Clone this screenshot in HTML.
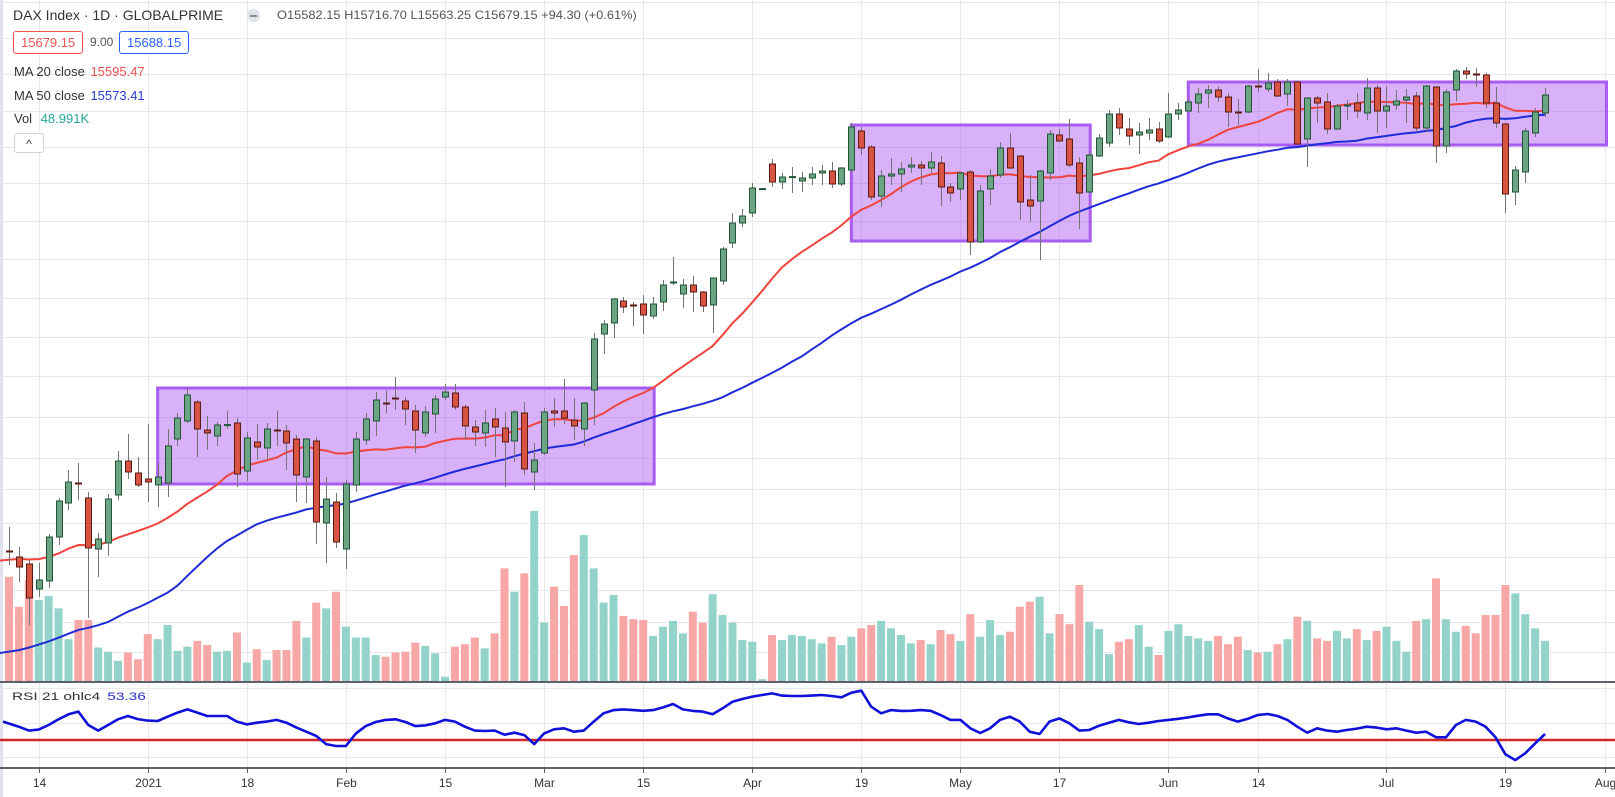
<!DOCTYPE html>
<html><head><meta charset="utf-8"><title>DAX Index 1D</title>
<style>
html,body{margin:0;padding:0;background:#fff;}
body{width:1615px;height:797px;position:relative;overflow:hidden;font-family:"Liberation Sans",sans-serif;color:#131722;}
svg{position:absolute;left:0;top:0;}
.lg{position:absolute;font-size:13px;white-space:nowrap;color:#333;}
.box{position:absolute;border:1px solid;border-radius:3px;font-size:13px;height:21px;line-height:21px;padding:0 7px;background:#fff;}
</style></head>
<body>
<svg id="chart" width="1615" height="797"></svg>

<div class="lg" style="left:13px;top:7px;font-size:14px;color:#333;">DAX Index · 1D · GLOBALPRIME</div>
<div style="position:absolute;left:247px;top:9px;width:13px;height:13px;border-radius:7px;background:#e0e3eb;"><div style="position:absolute;left:3px;top:6px;width:7px;height:2px;background:#888;"></div></div>
<div class="lg" style="left:277px;top:8px;font-size:12px;color:#555;transform:scaleX(1.07);transform-origin:0 0;">O15582.15 H15716.70 L15563.25 C15679.15 +94.30 (+0.61%)</div>
<div class="box" style="left:13px;top:31px;border-color:#ef5350;color:#ef5350;">15679.15</div>
<div class="lg" style="left:90px;top:35px;font-size:12px;color:#555;">9.00</div>
<div class="box" style="left:119px;top:31px;border-color:#2962ff;color:#2962ff;">15688.15</div>
<div class="lg" style="left:14px;top:64px;">MA 20 close <span style="color:#ef5350;margin-left:2px;">15595.47</span></div>
<div class="lg" style="left:14px;top:88px;">MA 50 close <span style="color:#2a3bd6;margin-left:2px;">15573.41</span></div>
<div class="lg" style="left:14px;top:111px;">Vol <span style="color:#26a69a;margin-left:5px;">48.991K</span></div>
<div style="position:absolute;left:14px;top:133px;width:28px;height:18px;border:1px solid #d1d4dc;border-radius:3px;background:#fff;font-size:12px;text-align:center;line-height:20px;color:#333;">^</div>
<div class="lg" style="left:12px;top:691px;font-size:11px;transform:scaleX(1.4);transform-origin:0 0;">RSI 21 ohlc4 <span style="color:#2a2ad0;margin-left:2px;">53.36</span></div>

<script>
const priorCloses=[12610,12540,12520,12680,12730,12750,12790,12900,12840,12850,12570,12540,12700,12610,12490,
12650,12300,11750,11650,11660,
11890,12190,12420,12530,12580,13120,13260,13290,13150,13180,13170,13240,13230,13260,13310,13270,13380,13460,13420,13390,13430,
13460,13420,13400,13380,13370,13440,13420,13400];
const opens=[13410,13380,13345,13220,13260,13480,13650,13750,13675,13420,
13450,13690,13860,13800,13770,13740,13750,13970,14060,14155,
14015,13985,14040,14050,13810,13955,13925,14015,14010,13970,
13780,13960,13550,13655,13420,13740,13965,14060,14150,14175,
14160,14110,14000,14095,14180,14200,14130,14030,14000,14070,
14025,13960,14100,13805,13900,14110,14110,14065,14020,14215,
14495,14550,14660,14640,14645,14585,14655,14750,14695,14740,
14705,14640,14760,14950,15050,15100,15220,15345,15255,15280,
15260,15275,15300,15310,15245,15315,15510,15430,15185,15285,
15295,15330,15340,15325,15350,15230,15220,15305,14955,15220,
15290,15425,15385,15165,15160,15300,15490,15470,15350,15205,
15385,15450,15595,15520,15490,15500,15520,15480,15595,15610,
15650,15700,15715,15680,15605,15605,15735,15720,15755,15695,
15755,15470,15675,15655,15520,15635,15650,15600,15725,15610,
15640,15665,15685,15525,15730,15435,15715,15810,15795,15790,
15650,15545,15205,15305,15500,15600];
const highs=[13530,13430,13365,13350,13495,13675,13815,13850,13705,13500,
13695,13910,13995,13880,14045,13850,14020,14100,14225,14165,
14085,14055,14110,14075,14005,14045,14050,14110,14040,13990,
13975,13980,13780,13700,13765,14005,14100,14205,14215,14280,
14180,14140,14135,14190,14245,14245,14140,14065,14115,14125,
14105,14115,14155,13950,14125,14175,14270,14175,14155,14500,
14565,14675,14680,14655,14690,14680,14765,14880,14770,14785,
14710,14775,14930,15100,15120,15250,15225,15370,15300,15330,
15305,15330,15340,15355,15330,15550,15530,15440,15315,15375,
15355,15380,15360,15405,15385,15250,15305,15315,15240,15320,
15455,15500,15390,15290,15315,15515,15520,15570,15380,15400,
15495,15615,15625,15575,15550,15575,15555,15700,15650,15675,
15725,15740,15735,15700,15670,15740,15820,15800,15770,15770,
15760,15680,15685,15700,15645,15665,15700,15775,15740,15735,
15715,15720,15705,15740,15735,15720,15820,15830,15825,15800,
15730,15550,15335,15525,15625,15725];
const lows=[13340,13255,13040,13180,13225,13440,13615,13665,13075,13280,
13385,13665,13770,13730,13655,13630,13680,13935,14050,13880,
13915,13935,14020,13730,13760,13865,13870,13935,13815,13655,
13650,13445,13350,13425,13320,13705,13940,13985,14100,14115,
14040,13900,13980,14000,14165,14115,13970,13935,13930,13880,
13730,13855,13790,13715,13890,14030,14045,13965,13935,14040,
14395,14475,14600,14535,14495,14570,14610,14740,14625,14605,
14605,14500,14740,14925,15030,15080,15215,15230,15220,15200,
15205,15240,15240,15225,15235,15305,15390,15165,15130,15240,
15205,15300,15240,15300,15135,15155,15165,14890,14950,15140,
15275,15320,15065,15055,14865,15265,15455,15330,15020,15200,
15380,15430,15490,15440,15395,15465,15450,15475,15565,15610,
15600,15625,15655,15530,15540,15600,15705,15705,15680,15635,
15440,15330,15550,15495,15515,15565,15575,15565,15500,15525,
15615,15550,15505,15505,15350,15400,15660,15770,15730,15625,
15525,15100,15140,15250,15480,15580];
const closes=[13405,13330,13175,13265,13480,13660,13755,13745,13425,13470,
13670,13860,13805,13740,13755,13780,13935,14075,14190,14020,
14000,14040,14042,13795,13975,13930,14020,14010,13950,13790,
13970,13555,13670,13455,13745,13970,14070,14165,14148,14170,
14120,14015,14105,14170,14205,14130,14035,14005,14050,14030,
13955,14105,13820,13865,14105,14100,14075,14035,14150,14470,
14545,14670,14630,14635,14590,14645,14740,14755,14740,14705,
14635,14775,14920,15050,15085,15225,15222,15255,15280,15282,
15275,15295,15310,15245,15325,15530,15425,15180,15285,15295,
15320,15340,15325,15355,15230,15200,15300,14955,15210,15285,
15425,15325,15155,15135,15310,15495,15460,15340,15200,15390,
15475,15595,15525,15485,15505,15515,15460,15595,15615,15655,
15695,15715,15680,15605,15600,15735,15730,15750,15685,15755,
15445,15675,15650,15520,15635,15640,15610,15725,15610,15635,
15660,15680,15525,15735,15435,15705,15810,15795,15790,15650,
15550,15195,15315,15510,15605,15690];
const volumesK=[126,90,122,98,103,88,51,74,74,41,36,25,35,27,57,51,68,37,42,49,
44,36,37,59,23,39,26,38,38,73,53,95,88,108,66,53,53,32,30,35,
36,47,43,34,6,42,45,53,40,58,136,108,130,205,71,114,91,152,176,136,
95,104,79,75,74,55,66,73,58,84,71,105,80,71,50,48,3,56,50,56,
55,51,46,54,44,54,64,68,73,64,56,46,50,45,62,57,49,81,54,74,
56,60,90,96,102,58,81,69,116,72,63,33,48,51,68,42,32,61,69,55,
52,49,55,45,54,38,35,36,45,51,78,73,52,49,61,52,63,50,61,66,
49,36,73,75,124,75,60,67,58,80,80,116,106,81,64,49];
const rsiValues=[60.8,57.8,55.5,56.1,58.8,62.2,65.1,66.7,58.8,55.5,
58.8,62.2,64.1,62.3,61.4,61.2,63.7,66.1,68.0,66.1,
64.1,64.1,64.1,60.8,59.2,60.2,60.8,61.8,60.2,57.3,
54.9,52.4,47.6,46.5,46.5,53.9,58.2,60.6,61.8,62.2,
60.6,58.2,58.6,59.8,61.8,60.8,57.8,55.5,55.3,55.5,
53.1,54.3,52.9,47.6,53.9,56.3,56.9,54.9,55.5,60.8,
65.7,67.6,68.0,67.6,67.2,67.6,69.2,71.2,68.0,67.1,
66.7,65.1,68.6,72.5,74.1,75.5,76.5,77.4,76.1,75.9,
75.9,76.1,76.5,75.9,75.1,77.8,79.0,69.6,65.7,67.6,
67.1,67.2,67.6,67.2,64.7,61.8,61.8,56.9,54.1,56.9,
61.8,63.7,60.8,54.9,53.5,60.8,62.7,59.8,55.5,55.9,
58.4,60.2,61.8,60.4,59.4,60.2,61.2,61.8,62.5,63.3,
64.3,65.1,65.1,62.7,60.8,62.5,64.7,65.3,64.1,61.8,
57.8,54.3,56.9,55.5,54.9,55.9,56.7,57.8,57.3,56.3,
56.9,55.5,54.3,54.9,51.6,51.6,58.8,61.8,60.8,57.8,
51.6,41.6,38.2,42.2,48.0,53.5];
const tickLabels=['14','2021','18','Feb','15','Mar','15','Apr','19','May','17','Jun','14','Jul','19','Aug'];
const tickBars=[3,14,24,34,44,54,64,75,86,96,106,117,126,139,151,161];
const boxStartBars=[15,85,119];
const boxEndBars=[65.1,109.1,161.2];
const boxTopPrices=[14225,15540,15755];
const boxBottomPrices=[13745,14960,15440];
const rsiLevel=50;

const NS='http://www.w3.org/2000/svg';
const svg=document.getElementById('chart');
const xAt=k=>9+k*9.91;
const yPrice=p=>(16165-p)/5;
const yVol=v=>681.7-v/1.2;
const yRsi=r=>740-(r-50)*1.7;
function mk(tag,attrs,parent){const e=document.createElementNS(NS,tag);for(const k in attrs)e.setAttribute(k,attrs[k]);(parent||svg).appendChild(e);return e;}

let strip=mk('rect',{x:0,y:0,width:3,height:797,fill:'#e0e3eb'});



const gGrid=mk('g',{stroke:'#e6e8ee','stroke-width':1});


[2,38,74,111,147,183,221,259,298,337,376,417,458,489,523,557,590,622,652,688,723,757].forEach(y=>{mk('line',{x1:0,x2:1615,y1:y+0.5,y2:y+0.5},gGrid);});
tickBars.forEach(k=>{const x=Math.round(xAt(k))+0.5;mk('line',{x1:x,x2:x,y1:0,y2:768},gGrid);});

const gBox=mk('g',{});


for(let b=0;b<boxStartBars.length;b++){
  const x1=xAt(boxStartBars[b]),x2=xAt(boxEndBars[b]),y1=yPrice(boxTopPrices[b]),y2=yPrice(boxBottomPrices[b]);
  const r=mk('rect',{x:x1,y:y1,width:x2-x1,height:y2-y1,fill:'rgba(165,70,240,0.42)',stroke:'#a95cf2','stroke-width':3},gBox);
  
  
}

const gVol=mk('g',{});


for(let k=0;k<volumesK.length;k++){
  const up=closes[k]>=opens[k];
  const y=yVol(volumesK[k]);
  const r=mk('rect',{x:xAt(k)-4,y:y,width:8,height:681.7-y,fill:up?'#94d3ca':'#f7a7a6'},gVol);
  
  
}

const allCloses=priorCloses.concat(closes);
function maPath(n){let d='';for(let k=0;k<closes.length;k++){const end=priorCloses.length+k;let s=0;for(let j=end-n+1;j<=end;j++)s+=allCloses[j];const y=yPrice(s/n);d+=(k?'L':'M')+(k===0?0:xAt(k)).toFixed(1)+' '+y.toFixed(1);}return d;}
const ma50=mk('path',{d:maPath(50),fill:'none',stroke:'#1f2bd6','stroke-width':2});


const ma20=mk('path',{d:maPath(20),fill:'none',stroke:'#f0433c','stroke-width':2});



const gC=mk('g',{});


for(let k=0;k<closes.length;k++){
  const x=Math.round(xAt(k));
  const up=closes[k]>=opens[k];
  const w=mk('line',{x1:x+0.5,x2:x+0.5,y1:yPrice(highs[k]),y2:yPrice(lows[k]),stroke:'#737375','stroke-width':1},gC);
  
  
  const yt=yPrice(Math.max(opens[k],closes[k])),yb=yPrice(Math.min(opens[k],closes[k]));
  const h=Math.max(yb-yt,1);
  const body=mk('rect',{x:x-2.5,y:yt,width:6,height:h,fill:up?'#6ba583':'#d75442',stroke:up?'#225437':'#5b1a13','stroke-width':1},gC);
  
  
}

const sep1=mk('rect',{x:0,y:681,width:1615,height:2,fill:'#5d606b'});


const sep2=mk('rect',{x:0,y:767,width:1615,height:2,fill:'#5d606b'});



const lvl=mk('line',{x1:0,x2:1615,y1:yRsi(rsiLevel),y2:yRsi(rsiLevel),stroke:'#d62728','stroke-width':2.5});


let d='';
for(let k=0;k<rsiValues.length;k++){d+=(k?'L':'M')+(k===0?3:xAt(k)).toFixed(1)+' '+yRsi(rsiValues[k]).toFixed(1);}
const rsi=mk('path',{d:d,fill:'none',stroke:'#1010d8','stroke-width':2.6,'stroke-linejoin':'round'});



const gAx=mk('g',{});


for(let t=0;t<tickLabels.length;t++){
  const x=Math.round(xAt(tickBars[t]))+0.5;
  mk('line',{x1:x,x2:x,y1:768,y2:773,stroke:'#5d606b','stroke-width':1},gAx);
  const tx=mk('text',{x:x,y:787,'text-anchor':'middle','font-size':12,'font-family':'Liberation Sans, sans-serif',fill:'#333'},gAx);
  tx.textContent=tickLabels[t];
  
  
}
</script>
</body></html>
